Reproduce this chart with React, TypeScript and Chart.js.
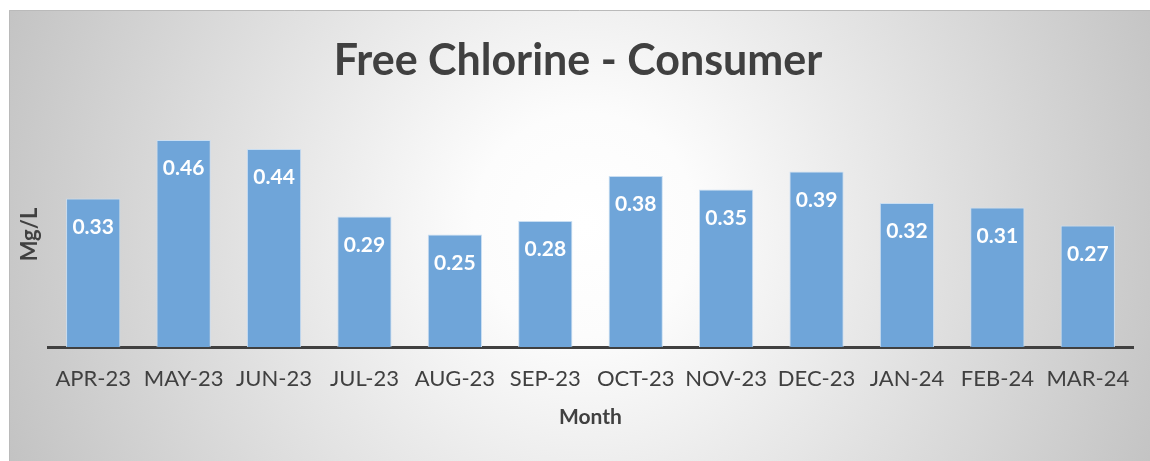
import { useEffect, useRef } from 'react';
import { Chart, registerables } from 'chart.js';

Chart.register(...registerables);

const categories = ['APR-23', 'MAY-23', 'JUN-23', 'JUL-23', 'AUG-23', 'SEP-23', 'OCT-23', 'NOV-23', 'DEC-23', 'JAN-24', 'FEB-24', 'MAR-24'];
const values = [0.33, 0.46, 0.44, 0.29, 0.25, 0.28, 0.38, 0.35, 0.39, 0.32, 0.31, 0.27];
const chartTitle = 'Free Chlorine - Consumer';
const xTitle = 'Month';
const yTitle = 'Mg/L';
const yMin = 0;
const yMax = 0.5;

const FONT = 'Lato, Carlito, "Open Sans", sans-serif';
const TEXT = '#404040';

const bgPlugin = {
  id: 'bgTitle',
  beforeDraw(chart: any) {
    const ctx = chart.ctx as CanvasRenderingContext2D;
    const w = chart.width;
    const h = chart.height;
    ctx.save();
    ctx.fillStyle = '#ffffff';
    ctx.fillRect(0, 0, w, h);
    const g = ctx.createRadialGradient(585, 225, 0, 585, 225, 620);
    g.addColorStop(0, '#ffffff');
    g.addColorStop(0.18, '#fcfcfc');
    g.addColorStop(1, '#c3c3c3');
    ctx.fillStyle = g;
    ctx.fillRect(9, 10, w - 9, h - 10);
    ctx.strokeStyle = '#bababa';
    ctx.lineWidth = 1;
    ctx.beginPath();
    ctx.moveTo(9.5, h);
    ctx.lineTo(9.5, 10.5);
    ctx.lineTo(w, 10.5);
    ctx.stroke();
    ctx.fillStyle = TEXT;
    ctx.font = `bold 43px ${FONT}`;
    ctx.textAlign = 'center';
    ctx.textBaseline = 'alphabetic';
    ctx.fillText(chartTitle, 578, 75);
    ctx.restore();
  },
};

const labelPlugin = {
  id: 'valueLabels',
  afterDatasetsDraw(chart: any) {
    const ctx = chart.ctx as CanvasRenderingContext2D;
    const meta = chart.getDatasetMeta(0);
    ctx.save();
    ctx.fillStyle = '#ffffff';
    ctx.font = `bold 21px ${FONT}`;
    ctx.textAlign = 'center';
    ctx.textBaseline = 'alphabetic';
    meta.data.forEach((bar: any, i: number) => {
      ctx.fillText(values[i].toFixed(2), bar.x, bar.y + 35);
    });
    ctx.restore();
  },
};

export default function App() {
  const ref = useRef<HTMLCanvasElement>(null);
  useEffect(() => {
    if (!ref.current) return;
    const chart = new Chart(ref.current, {
      type: 'bar',
      data: {
        labels: categories,
        datasets: [
          {
            data: values,
            backgroundColor: '#6fa5d9',
            borderColor: '#c9def2',
            borderWidth: 1,
            barPercentage: 0.6,
            categoryPercentage: 1,
          },
        ],
      },
      options: {
        responsive: false,
        animation: false,
        layout: { padding: { left: 0, right: 17, top: 122, bottom: 0 } },
        plugins: {
          legend: { display: false },
          title: { display: false },
          tooltip: { enabled: false },
        },
        scales: {
          x: {
            grid: { display: false, drawTicks: false },
            border: { display: true, color: '#404040', width: 3 },
            ticks: { color: TEXT, font: { family: FONT, size: 22 }, padding: 19, maxRotation: 0 },
            title: { display: true, text: xTitle, color: TEXT, font: { family: FONT, size: 21, weight: 'bold' }, padding: { top: 0, bottom: 31 } },
            afterFit: (s: any) => { s.height = 114; },
          },
          y: {
            min: yMin,
            max: yMax,
            grid: { display: false, drawTicks: false },
            border: { display: false },
            ticks: { display: false },
            title: { display: true, text: yTitle, color: TEXT, font: { family: FONT, size: 22, weight: 'bold' }, padding: { top: 17, bottom: 0 } },
            afterFit: (s: any) => { s.width = 48; },
          },
        },
      },
      plugins: [bgPlugin, labelPlugin],
    });
    return () => chart.destroy();
  }, []);
  return (
    <div style={{ position: 'fixed', left: 0, top: 0, width: 1150, height: 461 }}>
      <canvas ref={ref} width={1150} height={461} style={{ display: 'block' }} />
    </div>
  );
}
